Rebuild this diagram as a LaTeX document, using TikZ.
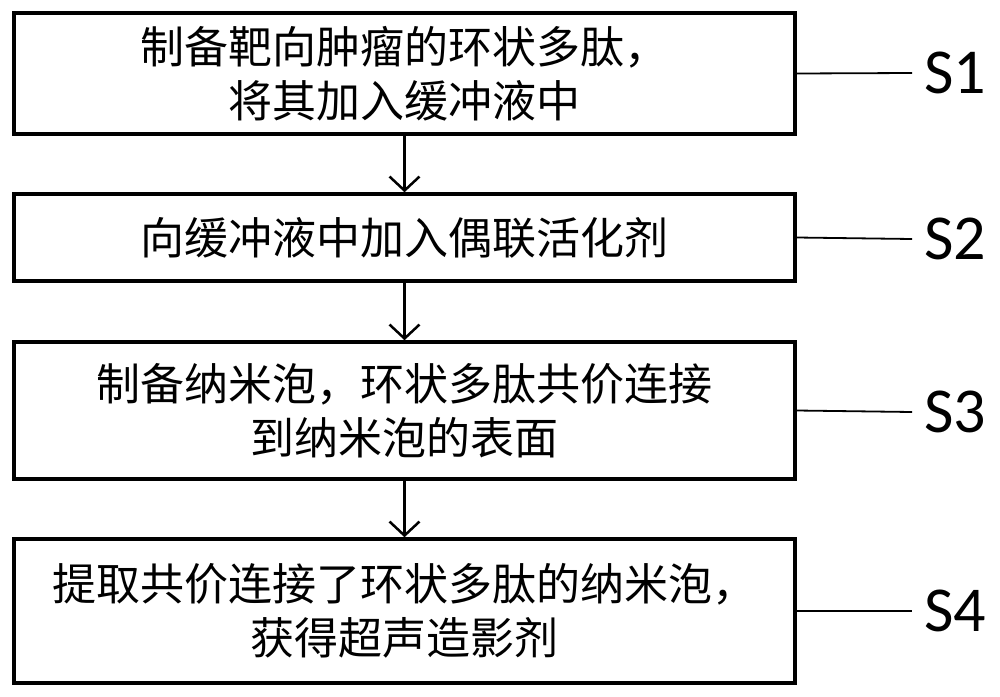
\documentclass[tikz,border=0pt]{standalone}
\usepackage{fontspec}
\newfontfamily\cjk{Noto Sans CJK SC}
\newfontfamily\tagfont{Carlito}
\usepackage{tikz}
\usetikzlibrary{arrows.meta}

\tikzset{
  stepbox/.style={draw, black, line width=3.5pt, minimum width=781pt, inner sep=0pt,
    align=center, font=\cjk\fontsize{44}{54}\selectfont},
  steptag/.style={anchor=west, inner xsep=12pt, inner ysep=0pt, font=\tagfont\fontsize{64}{64}\selectfont},
}

\begin{document}
\begin{tikzpicture}[x=1pt, y=-1pt, >={Straight Barb[length=14pt,width=30pt,line width=2.5pt]}]
\useasboundingbox (0,0) rectangle (1000,696);

\node [stepbox, minimum height=121pt] (s1box) at (404.5,73.5) {制备靶向肿瘤的环状多肽，\\将其加入缓冲液中};
\node [stepbox, minimum height=87pt] (s2box) at (404.5,237.5) {向缓冲液中加入偶联活化剂};
\node [stepbox, minimum height=137pt] (s3box) at (404.5,410.5) {制备纳米泡，环状多肽共价连接\\到纳米泡的表面};
\node [stepbox, minimum height=144pt] (s4box) at (404.5,611) {提取共价连接了环状多肽的纳米泡，\\获得超声造影剂};

\node [steptag] (s1tag) at (912,73) {S1};
\node [steptag] (s2tag) at (912,239) {S2};
\node [steptag] (s3tag) at (912,412) {S3};
\node [steptag] (s4tag) at (912,611) {S4};

\draw [black, line width=2.5pt, ->] (s1box.south) -- (s2box.north);
\draw [black, line width=2.5pt, ->] (s2box.south) -- (s3box.north);
\draw [black, line width=2.5pt, ->] (s3box.south) -- (s4box.north);

\draw [black, line width=1.8pt] (s1box.east) -- (s1tag.west);
\draw [black, line width=1.8pt] (s2box.east) -- (s2tag.west);
\draw [black, line width=1.8pt] (s3box.east) -- (s3tag.west);
\draw [black, line width=1.8pt] (s4box.east) -- (s4tag.west);

\end{tikzpicture}
\end{document}
